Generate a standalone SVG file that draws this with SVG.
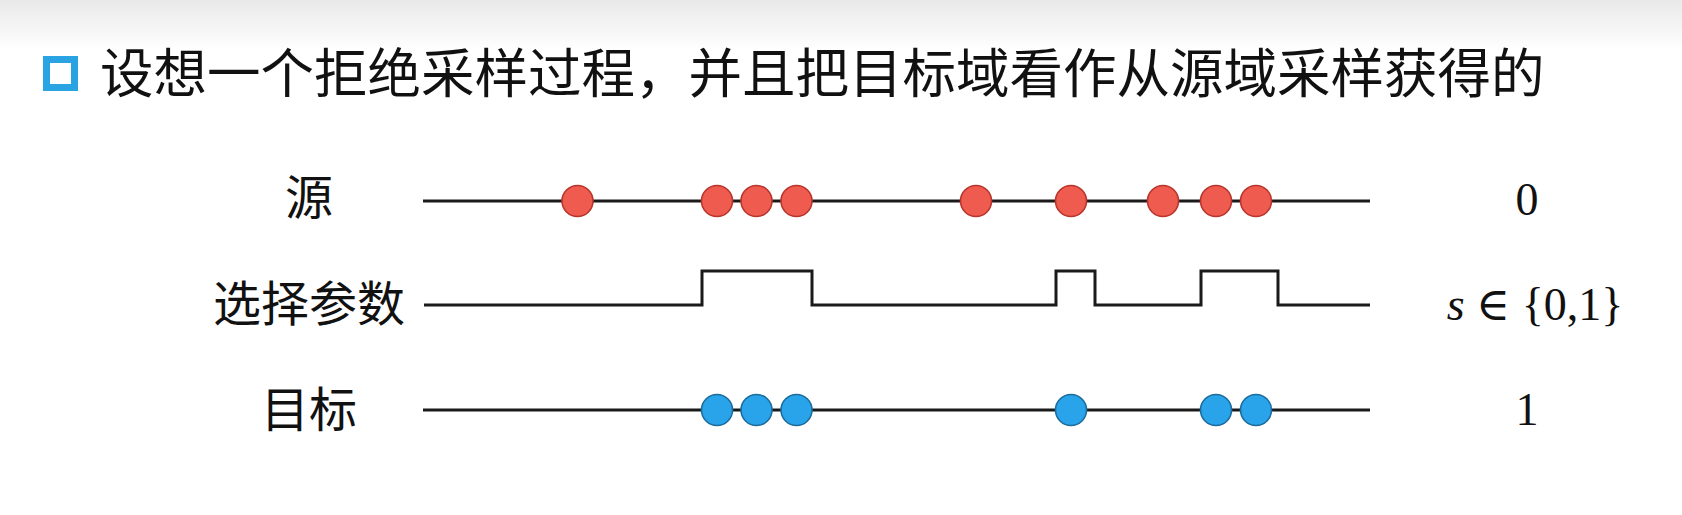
<svg xmlns="http://www.w3.org/2000/svg" width="1682" height="515" viewBox="0 0 1682 515">
  <defs>
    <linearGradient id="hdr" x1="0" y1="0" x2="0" y2="1">
      <stop offset="0" stop-color="#e9e9e9"/>
      <stop offset="1" stop-color="#ffffff"/>
    </linearGradient>
    <style>
      .cjk { font-family: "Noto Sans CJK SC", "Noto Sans", sans-serif; fill: #111; }
      .math { font-family: "Liberation Serif", "DejaVu Serif", serif; fill: #111; font-size: 46px; }
      .axis { fill: none; stroke: #1a1a1a; stroke-width: 3; stroke-linejoin: miter; }
      .red { fill: #f05b4f; stroke: #b8352c; stroke-width: 1.6; }
      .blue { fill: #29a4ea; stroke: #1c6c9c; stroke-width: 1.6; }
    </style>
  </defs>
  <rect x="0" y="0" width="1682" height="515" fill="#ffffff"/>
  <rect x="0" y="0" width="1682" height="50" fill="url(#hdr)"/>

  <g id="title">
    <rect x="46.5" y="59.5" width="28" height="28" fill="#ffffff" stroke="#2aa3e2" stroke-width="7"/>
    <text class="cjk" x="100" y="93" font-size="53.5">设想一个拒绝采样过程，并且把目标域看作从源域采样获得的</text>
  </g>

  <g id="connectors">
    <path id="line-source" class="axis" d="M423 201 H1370"/>
    <path id="line-select" class="axis" d="M424 305 H702 V271 H812 V305 H1056 V271 H1095 V305 H1201 V271 H1278 V305 H1370"/>
    <path id="line-target" class="axis" d="M423 410 H1370"/>
  </g>

  <g id="label-source"><text class="cjk" x="309" y="215" font-size="48" text-anchor="middle">源</text></g>
  <g id="label-select"><text class="cjk" x="309" y="321" font-size="48" text-anchor="middle">选择参数</text></g>
  <g id="label-target"><text class="cjk" x="309" y="427" font-size="48" text-anchor="middle">目标</text></g>

  <g id="source-samples">
    <circle class="red" cx="577.5" cy="201" r="15.5"/>
    <circle class="red" cx="717" cy="201" r="15.5"/>
    <circle class="red" cx="756.5" cy="201" r="15.5"/>
    <circle class="red" cx="796.5" cy="201" r="15.5"/>
    <circle class="red" cx="976" cy="201" r="15.5"/>
    <circle class="red" cx="1071" cy="201" r="15.5"/>
    <circle class="red" cx="1163" cy="201" r="15.5"/>
    <circle class="red" cx="1216" cy="201" r="15.5"/>
    <circle class="red" cx="1256" cy="201" r="15.5"/>
  </g>

  <g id="target-samples">
    <circle class="blue" cx="717" cy="410" r="15.5"/>
    <circle class="blue" cx="756.5" cy="410" r="15.5"/>
    <circle class="blue" cx="796.5" cy="410" r="15.5"/>
    <circle class="blue" cx="1071" cy="410" r="15.5"/>
    <circle class="blue" cx="1216" cy="410" r="15.5"/>
    <circle class="blue" cx="1256" cy="410" r="15.5"/>
  </g>

  <g id="value-source"><text class="math" x="1527" y="215" text-anchor="middle">0</text></g>
  <g id="value-select"><text class="math" x="1535" y="320" text-anchor="middle"><tspan font-style="italic">s</tspan> ∈ {0,1}</text></g>
  <g id="value-target"><text class="math" x="1527" y="425" text-anchor="middle">1</text></g>
</svg>
